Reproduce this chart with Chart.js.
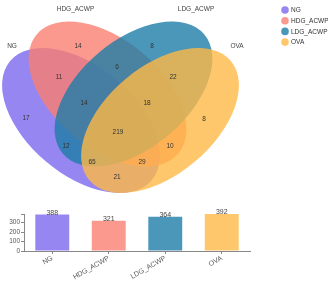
<!DOCTYPE html>
<html>
<head>
<meta charset="utf-8">
<script src="https://cdn.jsdelivr.net/npm/chart.js@4.4.0/dist/chart.umd.min.js"></script>
<style>
html, body { margin: 0; padding: 0; background: #fff; }
#wrap { position: relative; width: 328px; height: 282px; }
#venn { position: absolute; left: 0; top: 0; }
#bars { position: absolute; left: 0; top: 200px; }
</style>
</head>
<body>
<div id="wrap">
  <canvas id="venn" width="328" height="200"></canvas>
  <canvas id="bars" width="328" height="82"></canvas>
</div>
<script>
// sets and their sizes
const setNames = ['NG', 'HDG_ACWP', 'LDG_ACWP', 'OVA'];
const setSizes = [388, 321, 364, 392];
const yTicks = [0, 100, 200, 300];
const setColors = ['rgb(123,104,238)', 'rgb(250,128,114)', 'rgb(30,125,168)', 'rgb(255,185,70)'];

// region counts (NG only, HDG only, LDG only, OVA only, NG&HDG, HDG&LDG, LDG&OVA, NG&OVA,
// NG&HDG&LDG, HDG&LDG&OVA, NG&LDG, HDG&OVA, NG&LDG&OVA, NG&HDG&OVA, all)
const regionCounts = [17, 14, 8, 8, 11, 6, 22, 21, 14, 18, 12, 10, 65, 29, 219];

// where the counts sit, in venn units (same order)
const regionSpots = [
    [26, 118], [78, 46], [152, 46], [204, 119], [59, 77], [117, 67], [173, 77], [117, 177],
    [84, 103], [147, 103], [66, 146], [170, 146], [92, 162], [142, 162], [118, 132]
];

// ellipse shapes (center x, center y, semi axes, tilt in degrees)
const ellipses = [
    { x: 81, y: 120.5, a: 92.5, b: 54, tilt: 40 },
    { x: 107.5, y: 94, a: 92.5, b: 54, tilt: 40 },
    { x: 133.5, y: 94, a: 92.5, b: 54, tilt: -40 },
    { x: 160, y: 120.5, a: 92.5, b: 54, tilt: -40 }
];
const nameSpots = [[12, 46], [75.5, 9], [196, 9], [237, 46]];

const FONT = '"Liberation Sans", Arial, sans-serif';

const vennPlugin = {
    id: 'vennDraw',
    beforeDatasetsDraw(chart) {
        const ctx = chart.ctx;
        const xs = chart.scales.x, ys = chart.scales.y;
        ellipses.forEach((e, i) => {
            const px = xs.getPixelForValue(e.x), py = ys.getPixelForValue(e.y);
            const ra = xs.getPixelForValue(e.x + e.a) - px;
            const rb = xs.getPixelForValue(e.x + e.b) - px;
            ctx.save();
            ctx.globalAlpha = 0.8;
            ctx.fillStyle = setColors[i];
            ctx.translate(px, py);
            ctx.rotate(e.tilt * Math.PI / 180);
            ctx.beginPath();
            ctx.ellipse(0, 0, ra, rb, 0, 0, Math.PI * 2);
            ctx.fill();
            ctx.restore();
        });
    },
    afterDatasetsDraw(chart) {
        const ctx = chart.ctx;
        const xs = chart.scales.x, ys = chart.scales.y;
        ctx.save();
        ctx.textAlign = 'center';
        ctx.textBaseline = 'middle';
        ctx.fillStyle = '#333';
        ctx.font = '6.5px ' + FONT;
        chart.getDatasetMeta(0).data.forEach((pt, i) => {
            ctx.fillText(String(regionCounts[i]), pt.x, pt.y);
        });
        ctx.fillStyle = '#444';
        setNames.forEach((n, i) => {
            ctx.fillText(n, xs.getPixelForValue(nameSpots[i][0]), ys.getPixelForValue(nameSpots[i][1]));
        });
        // legend
        ctx.textAlign = 'left';
        setNames.forEach((n, i) => {
            const y = 10 + i * 10.7;
            ctx.globalAlpha = 0.8;
            ctx.fillStyle = setColors[i];
            ctx.beginPath();
            ctx.arc(285, y, 3.8, 0, Math.PI * 2);
            ctx.fill();
            ctx.globalAlpha = 1;
            ctx.fillStyle = '#333';
            ctx.fillText(n, 291, y + 0.5);
        });
        ctx.restore();
    }
};

new Chart(document.getElementById('venn'), {
    type: 'scatter',
    data: {
        datasets: [{
            data: regionSpots.map(p => ({ x: p[0], y: p[1] })),
            pointRadius: 0
        }]
    },
    options: {
        responsive: false,
        animation: false,
        events: [],
        layout: { padding: 0 },
        plugins: { legend: { display: false }, tooltip: { enabled: false } },
        scales: {
            x: { type: 'linear', min: 0, max: 328, display: false },
            y: { type: 'linear', min: 0, max: 200, reverse: true, display: false }
        }
    },
    plugins: [vennPlugin]
});

const barLabels = {
    id: 'barLabels',
    afterDatasetsDraw(chart) {
        const ctx = chart.ctx;
        ctx.save();
        ctx.font = '7px ' + FONT;
        ctx.fillStyle = '#444';
        ctx.textAlign = 'center';
        ctx.textBaseline = 'bottom';
        chart.getDatasetMeta(0).data.forEach((bar, i) => {
            ctx.fillText(String(setSizes[i]), bar.x, bar.y + 2);
        });
        ctx.restore();
    }
};

new Chart(document.getElementById('bars'), {
    type: 'bar',
    data: {
        labels: setNames,
        datasets: [{
            data: setSizes,
            backgroundColor: setColors.map(c => c.replace('rgb', 'rgba').replace(')', ',0.8)')),
            categoryPercentage: 1,
            barPercentage: 0.6
        }]
    },
    options: {
        responsive: false,
        animation: false,
        events: [],
        layout: { padding: { top: 14, right: 78, left: 0, bottom: 0 } },
        plugins: { legend: { display: false }, tooltip: { enabled: false } },
        scales: {
            x: {
                grid: { offset: false, drawOnChartArea: false, drawTicks: true, tickLength: 3, color: '#888' },
                border: { color: '#888' },
                ticks: { font: { size: 7, family: FONT }, color: '#555', minRotation: 30, maxRotation: 30, padding: 0 },
                afterFit(s) { s.height = 31; }
            },
            y: {
                min: 0,
                max: 392,
                grid: { drawOnChartArea: false, drawTicks: true, tickLength: 3, color: '#888' },
                border: { color: '#888' },
                afterBuildTicks(s) {
                    s.ticks = yTicks.concat([392]).map(v => ({ value: v }));
                },
                ticks: {
                    autoSkip: false,
                    font: { size: 6.5, family: FONT },
                    color: '#555',
                    padding: 1,
                    callback: v => (yTicks.includes(v) ? String(v) : '')
                },
                afterFit(s) { s.width = 24; }
            }
        }
    },
    plugins: [barLabels]
});
</script>
</body>
</html>
